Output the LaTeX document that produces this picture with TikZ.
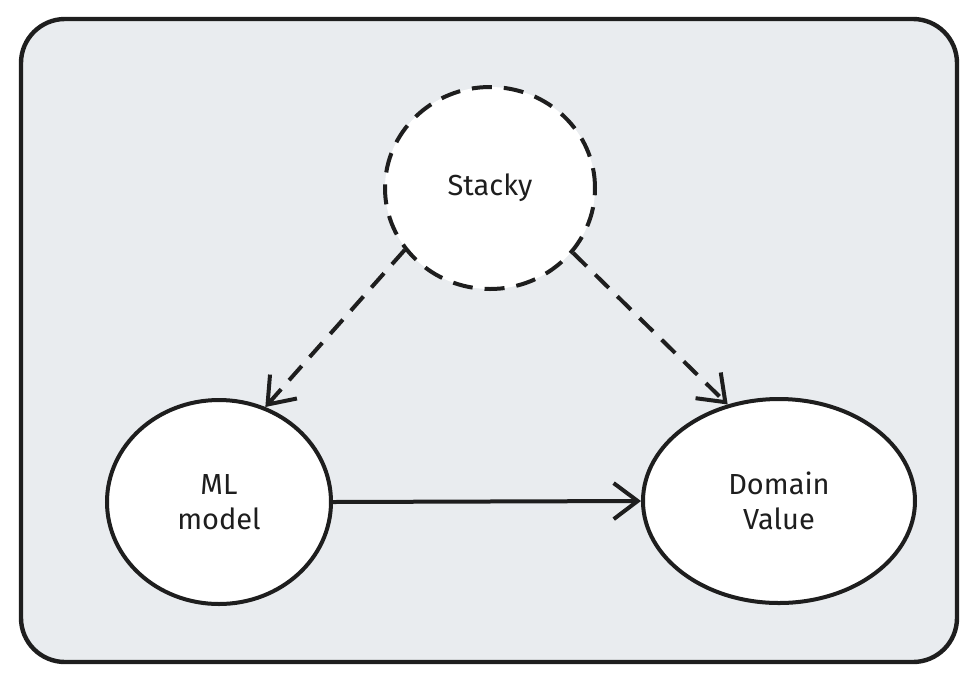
\documentclass[tikz,border=0pt]{standalone}
\usepackage{fontspec}
\setmainfont{Fira Sans}
\usepackage{tikz}
\usetikzlibrary{arrows.meta,shapes.geometric,positioning,backgrounds}

\definecolor{ink}{HTML}{1E1E1E}
\definecolor{paper}{HTML}{E9ECEF}

\begin{document}
\begin{tikzpicture}[
x=0.5pt,y=-0.5pt,
frame/.style={
rectangle,
rounded corners=22pt,
line width=2.2pt,
draw=ink,
fill=paper
},
place/.style={
ellipse,
inner sep=0pt,
line width=2pt,
draw=ink,
fill=white,
align=center,
font=\fontsize{14.5}{17.5}\selectfont,
text=ink
},
maybe/.style={
place,
dash pattern=on 10pt off 6pt
},
link/.style={
line width=2pt,
draw=ink,
-{Straight Barb[length=12pt,width=18pt,line width=2pt]}
},
maybelink/.style={
link,
dash pattern=on 9.5pt off 6pt
}]

\useasboundingbox (0,0) rectangle (976,682);
\draw[frame] (21,19) rectangle (957,662);

\node [maybe,minimum width=105pt,minimum height=101pt] (stacky) at (490,188) {Stacky};
\node [place,minimum width=112pt,minimum height=102pt] (ml) at (219,502) {ML\\model};
\node [place,minimum width=136pt,minimum height=102pt] (dom) at (779,501) {Domain\\Value};

\draw[maybelink] (stacky.216) -- (ml.64);
\draw[maybelink] (stacky.322) -- (dom.118);
\draw[link] (ml.east) -- (dom.west);

\end{tikzpicture}
\end{document}
